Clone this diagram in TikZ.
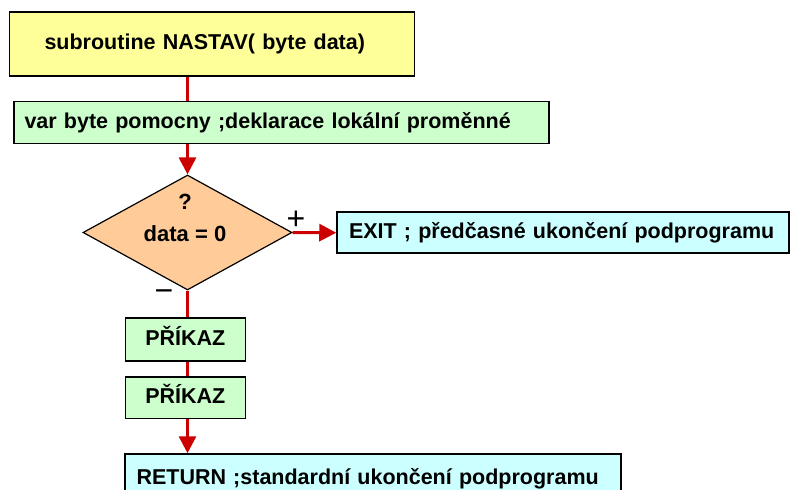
\documentclass[tikz,border=0pt]{standalone}
\usepackage{fontspec}
\setmainfont{Liberation Sans}
\usetikzlibrary{shapes.geometric,arrows.meta}
\definecolor{boxyellow}{HTML}{FFFF99}
\definecolor{boxgreen}{HTML}{CCFFCC}
\definecolor{boxcyan}{HTML}{CCFFFF}
\definecolor{decorange}{HTML}{FFCC99}
\definecolor{linered}{HTML}{CC0000}
\begin{document}
\begin{tikzpicture}[x=1pt,y=-1pt,
  box/.style={draw=black, line width=1.5pt, font=\fontsize{21.5}{26}\selectfont\bfseries,
    text height=16pt, text depth=5pt, inner sep=0pt},
  leftbox/.style={box, align=left},
  dec/.style={shape=diamond, draw=black, line width=1.2pt, fill=decorange, inner sep=0pt,
    minimum width=209pt, minimum height=115pt},
  dectext/.style={font=\fontsize{22}{26}\selectfont\bfseries, inner sep=0pt},
  flow/.style={draw=linered, line width=3pt},
  arr/.style={flow, -{Triangle[length=17pt,width=17pt]}},
  sign/.style={font=\fontsize{32}{32}\selectfont, inner sep=0pt}
]
\useasboundingbox (0,0) rectangle (790,490);
\clip (0,0) rectangle (790,490);

% nodes
\node[leftbox, fill=boxyellow, minimum height=64pt, text width=335pt, inner xsep=35pt] (title) at (212,44) {\mbox{subroutine NASTAV( byte data)}};
\node[leftbox, fill=boxgreen, minimum height=42pt, text width=514pt, inner xsep=10.5pt] (var) at (281.5,122.5) {\mbox{var byte pomocny ;deklarace lokální proměnné}};
\node[dec] (cond) at (187.5,232.5) {};
\node[dectext] (q) at (185,202) {?};
\node[dectext, anchor=base] (dz) at (185,241.5) {data = 0};
\node[leftbox, fill=boxcyan, minimum height=41pt, text width=428pt, inner xsep=12pt] (exit) at (563,232.7) {\mbox{EXIT ; předčasné ukončení podprogramu}};
\node[box, fill=boxgreen, minimum width=120pt, minimum height=43pt] (p1) at (185.3,339.5) {PŘÍKAZ};
\node[box, fill=boxgreen, minimum width=120pt, minimum height=41.5pt] (p2) at (185.3,397.5) {PŘÍKAZ};
\node[leftbox, fill=boxcyan, minimum height=50pt, text width=473pt, inner xsep=11.5pt] (ret) at (373,479) {\mbox{RETURN ;standardní ukončení podprogramu}};

\node[sign] (plus) at (296,220) {+};
\node[sign] (minus) at (164,296) {−};

% connectors
\draw[flow] (title.south -| cond.north) -- (var.north -| cond.north);
\draw[arr] (var.south -| cond.north) -- (cond.north);
\draw[arr] (cond.east) -- (exit.west);
\draw[flow] (cond.south) -- (p1.north -| cond.south);
\draw[flow] (p1.south -| cond.south) -- (p2.north -| cond.south);
\draw[arr] (p2.south -| cond.south) -- (ret.north -| cond.south);
\end{tikzpicture}
\end{document}
